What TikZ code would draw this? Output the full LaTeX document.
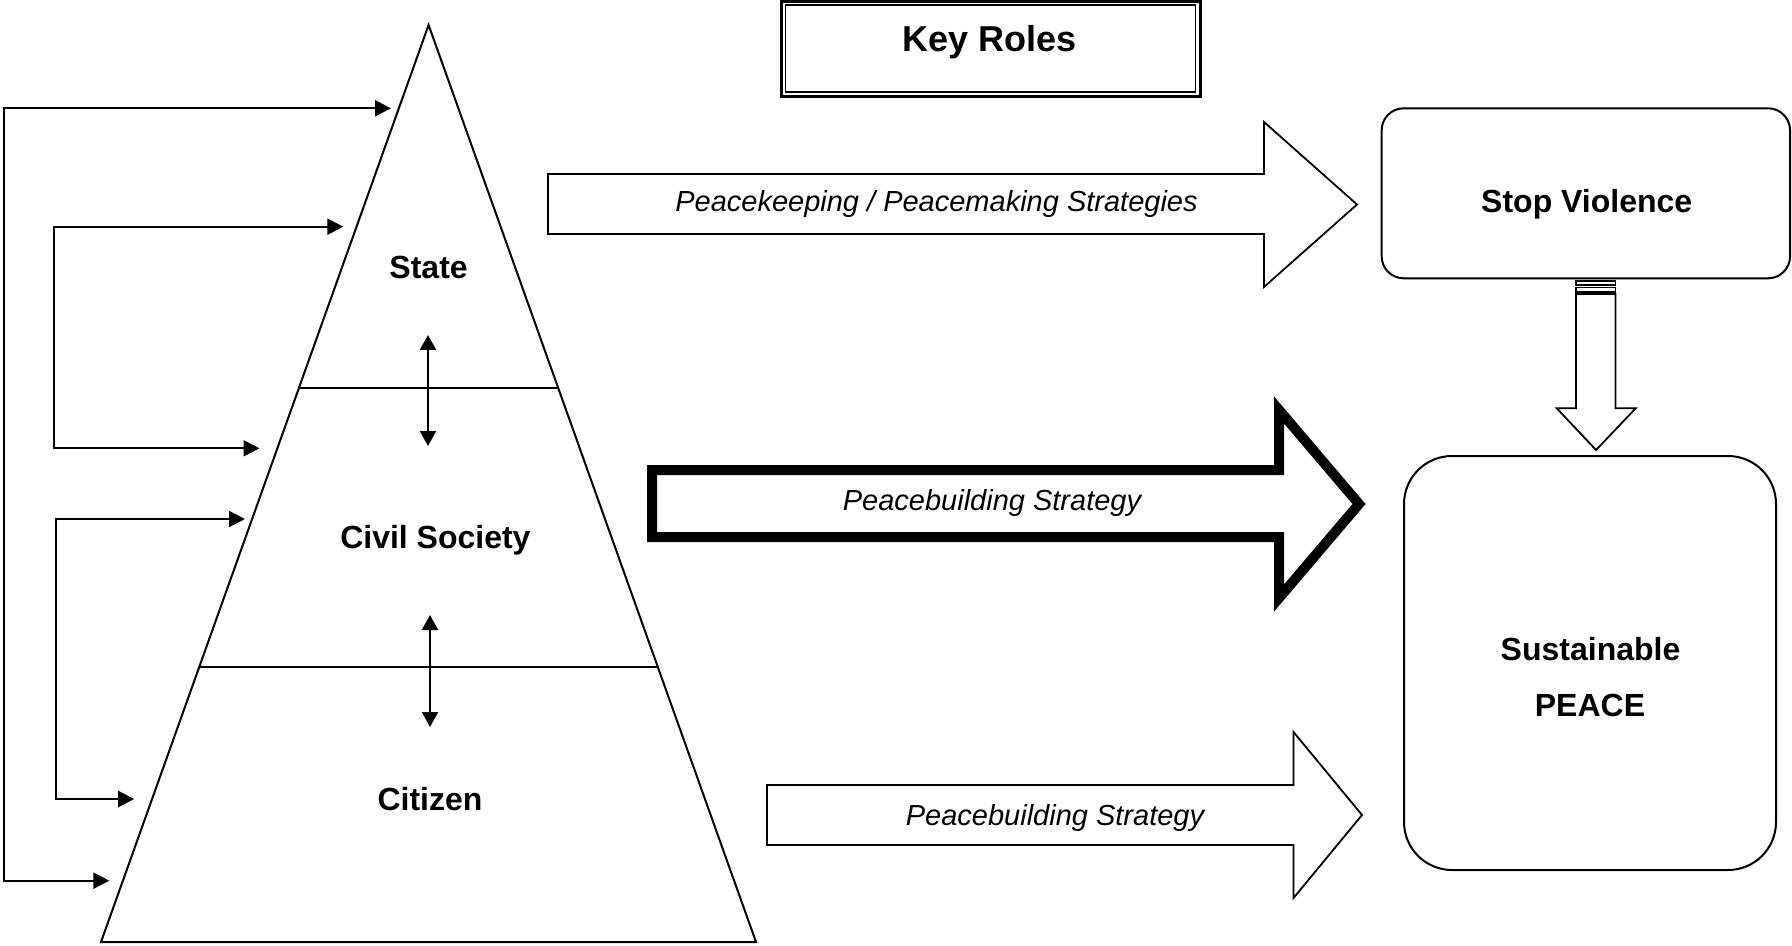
\documentclass[tikz,border=0pt]{standalone}
\usepackage{fontspec}
\setmainfont{Liberation Sans}
\usetikzlibrary{arrows.meta}
\begin{document}
\begin{tikzpicture}[x=0.5pt,y=-0.5pt,
  lbl/.style={font=\fontsize{16}{19}\selectfont\bfseries, inner sep=0pt, anchor=base},
  itl/.style={font=\fontsize{14.5}{17}\selectfont\itshape, inner sep=0pt, anchor=base},
  conn/.style={line width=1.1pt, line join=miter, {Triangle[length=8pt,width=8pt]}-{Triangle[length=8pt,width=8pt]}},
  dbl/.style={line width=1.1pt, {Triangle[length=7.5pt,width=8pt]}-{Triangle[length=7.5pt,width=8pt]}},
  thinarrow/.style={draw, line width=0.9pt, line join=miter, fill=white},
  thickarrow/.style={draw, line width=5pt, line join=miter, fill=white},
  rbox/.style={draw, line width=1pt, inner sep=0pt},
]
\useasboundingbox (0,0) rectangle (1792,946);

% pyramid
\coordinate (apex) at (428.6,25);
\coordinate (bl) at (101,942);
\coordinate (br) at (756,942);
\draw[line width=1pt, line join=miter] (apex) -- (br) -- (bl) -- cycle;
\coordinate (d1l) at (299,388.3);
\coordinate (d1r) at (558,388.3);
\coordinate (d2l) at (199.5,666.7);
\coordinate (d2r) at (657.5,666.7);
\draw[line width=0.9pt] (d1l) -- (d1r);
\draw[line width=0.9pt] (d2l) -- (d2r);

\node[lbl] (state) at (428.6,278.3) {State};
\node[lbl] (civil) at (435.4,548.3) {Civil Society};
\node[lbl] (citizen) at (430,810) {Citizen};

% vertical double arrows
\coordinate (v1t) at (428,335);
\coordinate (v1b) at (428,446);
\coordinate (v2t) at (430,615);
\coordinate (v2b) at (430,727);
\draw[dbl] (v1t) -- (v1b);
\draw[dbl] (v2t) -- (v2b);

% left connectors
\coordinate (a1s) at (391,108.3);
\coordinate (a1c) at (4,108.3);
\coordinate (a1d) at (4,880.7);
\coordinate (a1e) at (109.3,880.7);
\draw[conn] (a1s) -- (a1c) -- (a1d) -- (a1e);
\coordinate (a2s) at (343.3,226.7);
\coordinate (a2c) at (53.6,226.7);
\coordinate (a2d) at (53.6,448.3);
\coordinate (a2e) at (259.5,448.3);
\draw[conn] (a2s) -- (a2c) -- (a2d) -- (a2e);
\coordinate (a3s) at (245,519);
\coordinate (a3c) at (56,519);
\coordinate (a3d) at (56,799);
\coordinate (a3e) at (134.2,799);
\draw[conn] (a3s) -- (a3c) -- (a3d) -- (a3e);

% Key Roles box
\node[draw, line width=1.5pt, minimum width=209.5pt, minimum height=47.5pt, inner sep=0pt] (kr) at (990.5,49) {};
\draw[line width=0.8pt] ([shift={(3pt,-2.6pt)}]kr.north west) rectangle ([shift={(-3pt,3pt)}]kr.south east);
\node[inner sep=0pt, anchor=base, font=\fontsize{18}{21}\selectfont\bfseries] (krt) at (990,52) {Key Roles};

% right boxes
\node[rbox, rounded corners=11pt, minimum width=204.2pt, minimum height=85pt] (sv) at (1585.85,193.3) {};
\node[lbl] (svt) at (1586.7,212.3) {Stop Violence};
\node[rbox, rounded corners=24pt, minimum width=186pt, minimum height=207pt] (sp) at (1590,663) {};
\node[lbl] (sp1) at (1590.5,660) {Sustainable};
\node[lbl] (sp2) at (1590,716) {PEACE};

% block arrows
\path[thinarrow] (548,174) -- (1264,174) -- (1264,122) -- (1357,204.5) -- (1264,287) -- (1264,234) -- (548,234) -- cycle;
\node[itl] (pk) at (936.5,211.7) {Peacekeeping / Peacemaking Strategies};

\path[thickarrow] (652,470) -- (1279,470) -- (1279,410) -- (1359,504) -- (1279,598) -- (1279,537) -- (652,537) -- cycle;
\node[itl] (pb1) at (992,510.7) {Peacebuilding Strategy};

\path[thinarrow] (767,785) -- (1293.5,785) -- (1293.5,732) -- (1362,815) -- (1293.5,898) -- (1293.5,845) -- (767,845) -- cycle;
\node[itl] (pb2) at (1055,825) {Peacebuilding Strategy};

% down arrow from Stop Violence to Sustainable PEACE
\draw[line width=0.8pt] (1576,281) rectangle (1615.5,285);
\draw[line width=0.8pt] (1576,287.7) rectangle (1615.5,292.3);
\path[thinarrow] (1576,294) -- (1576,408.3) -- (1556.7,408.3) -- (1596,450) -- (1635.7,408.3) -- (1615.5,408.3) -- (1615.5,294) -- cycle;
\end{tikzpicture}
\end{document}
